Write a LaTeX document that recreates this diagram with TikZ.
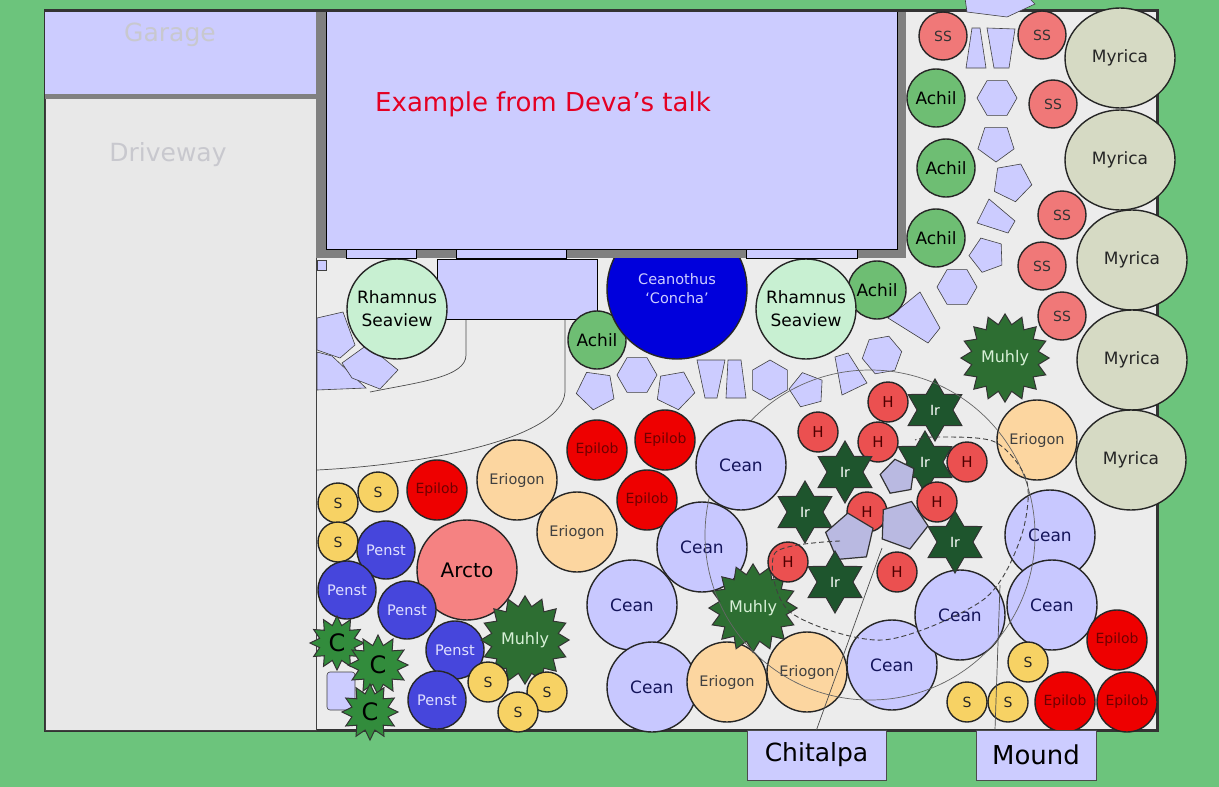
\documentclass[tikz,border=0pt]{standalone}
\usepackage{fontspec}
\setmainfont{DejaVu Sans}
\usetikzlibrary{shapes.geometric}
\newcommand{\fsz}[1]{\fontsize{#1}{#1}\selectfont}
\definecolor{grass}{RGB}{108,196,124}
\definecolor{yard}{RGB}{236,236,236}
\definecolor{drive}{RGB}{232,232,232}
\definecolor{lav}{RGB}{204,204,255}
\definecolor{wall}{RGB}{128,128,128}
\definecolor{ssred}{RGB}{240,120,120}
\definecolor{myrgray}{RGB}{214,218,196}
\definecolor{achgreen}{RGB}{110,190,115}
\definecolor{rhamgreen}{RGB}{200,240,210}
\definecolor{concha}{RGB}{0,0,220}
\definecolor{muhgreen}{RGB}{45,110,50}
\definecolor{cgreen}{RGB}{50,140,60}
\definecolor{irgreen}{RGB}{30,85,45}
\definecolor{hred}{RGB}{235,80,80}
\definecolor{ceanlav}{RGB}{200,200,255}
\definecolor{eriopeach}{RGB}{252,214,160}
\definecolor{epired}{RGB}{238,0,0}
\definecolor{syellow}{RGB}{247,210,100}
\definecolor{penblue}{RGB}{70,70,220}
\definecolor{arcpink}{RGB}{245,130,130}
\definecolor{rockgray}{RGB}{185,185,225}
\definecolor{talkred}{RGB}{228,0,35}

\tikzset{
  plant/.style={circle, draw=black!85, line width=1.4pt, inner sep=0pt, align=center},
  ss/.style={plant, fill=ssred, minimum size=48pt, font=\fsz{14}, text=black!80},
  myrica/.style={plant, ellipse, fill=myrgray, minimum width=110pt, minimum height=100pt, font=\fsz{17}, text=black!85},
  achil/.style={plant, fill=achgreen, minimum size=58pt, font=\fsz{17}},
  rhamnus/.style={plant, fill=rhamgreen, minimum size=100pt, font=\fontsize{17}{23}\selectfont},
  cean/.style={plant, fill=ceanlav, minimum size=90pt, font=\fsz{17}, text={rgb,255:red,20;green,20;blue,90}},
  erio/.style={plant, fill=eriopeach, minimum size=80pt, font=\fsz{14.5}, text=black!75},
  epilob/.style={plant, fill=epired, minimum size=60pt, font=\fsz{14}, text={rgb,255:red,110;green,0;blue,0}},
  smallS/.style={plant, fill=syellow, minimum size=40pt, font=\fsz{14}, text=black!85},
  penst/.style={plant, fill=penblue, minimum size=58pt, font=\fsz{14.5}, text={rgb,255:red,225;green,225;blue,255}},
  hplant/.style={plant, fill=hred, minimum size=40pt, font=\fsz{15}, text={rgb,255:red,80;green,0;blue,0}},
  muhly/.style={star, star points=16, star point ratio=1.3, draw=black!80, line width=1pt, fill=muhgreen, inner sep=0pt, minimum size=80pt, font=\fsz{16}, text={rgb,255:red,215;green,240;blue,215}},
  cstar/.style={star, star points=12, star point ratio=1.5, draw=black!80, line width=1pt, fill=cgreen, inner sep=0pt, font=\fsz{24}},
  iris/.style={star, star points=6, star point ratio=1.73, draw=black!80, line width=1pt, fill=irgreen, inner sep=0pt, minimum size=62pt, font=\fsz{14}, text=white},
  rock/.style={regular polygon, regular polygon sides=5, draw=black!80, line width=1.2pt, fill=rockgray, inner sep=0pt},
  paver/.style={draw=black!75, line width=0.6pt, fill=lav},
  pent/.style={paver, regular polygon, regular polygon sides=5, inner sep=0pt},
  hexa/.style={paver, regular polygon, regular polygon sides=6, inner sep=0pt},
  bedline/.style={draw=black!70, line width=0.7pt},
  faint/.style={font=\fsz{25}, text={rgb,255:red,200;green,200;blue,206}},
  tag/.style={draw=black!70, fill=lav, inner sep=0pt, minimum height=50pt}
}

\begin{document}
\begin{tikzpicture}[x=1pt,y=-1pt]
\useasboundingbox (0,0) rectangle (1219,787);
\fill[grass] (0,0) rectangle (1219,787);

% yard, garage and driveway
\draw[line width=3pt, draw=black!80, fill=yard] (45,10) rectangle (1157,730);
\draw[line width=0.8pt, draw=black!75, fill=drive] (45,97) rectangle (316,730);
\fill[lav] (45,10) rectangle (316,94);
\fill[wall] (45,94) rectangle (316,99);
\node[faint] (garage) at (170,35) {Garage};
\node[faint] (drive) at (168,155) {Driveway};

% beds
\draw[bedline] (466,319) -- (466,355) .. controls (466,377) and (420,382) .. (370,392);
\draw[bedline] (565,319) -- (565,392) .. controls (562,440) and (420,465) .. (317,470);
\draw[paver, draw=black] (437,259) rectangle (597,319);
\draw[paver] (317,260) rectangle (326,270);
\draw[paver, rounded corners=3pt] (327,672) rectangle (355,710);

% stepping stones
\draw[paver] (317,318) -- (343,312) -- (355,345) -- (340,358) -- (317,350) -- cycle;
\draw[paver] (317,352) -- (332,356) -- (366,388) -- (317,390) -- cycle;
\draw[paver] (342,363) -- (367,345) -- (398,370) -- (380,389) -- (352,378) -- cycle;
\draw[paver] (972,28) -- (980,28) -- (986,68) -- (966,68) -- cycle;
\draw[paver] (987,28) -- (1015,29) -- (1009,68) -- (994,68) -- cycle;
\node[hexa, minimum size=40pt] (st1) at (997,98) {};
\node[pent, minimum size=38pt, rotate=180] (st2) at (996,143) {};
\node[pent, minimum size=40pt, rotate=190] (st3) at (1012,182) {};
\draw[paver] (989,199) -- (1015,221) -- (1008,233) -- (977,223) -- cycle;
\node[pent, minimum size=36pt, rotate=20] (st4) at (987,255) {};
\node[hexa, minimum size=40pt] (st5) at (957,287) {};
\draw[paver] (888,318) -- (920,292) -- (940,328) -- (928,343) -- cycle;
\node[hexa, minimum size=40pt, rotate=10] (st6) at (882,355) {};
\draw[paver] (835,357) -- (848,353) -- (867,383) -- (842,395) -- cycle;
\node[pent, minimum size=36pt, rotate=15] (st7) at (807,390) {};
\node[hexa, minimum size=40pt, rotate=90] (st8) at (770,380) {};
\draw[paver] (728,360) -- (741,360) -- (746,398) -- (726,398) -- cycle;
\draw[paver] (697,360) -- (725,360) -- (717,398) -- (705,398) -- cycle;
\node[pent, minimum size=40pt, rotate=190] (st9) at (675,390) {};
\node[hexa, minimum size=40pt] (st10) at (637,375) {};
\node[pent, minimum size=40pt, rotate=100] (st11) at (596,390) {};

% plants
\node[myrica] (myr1) at (1120,58) {Myrica};
\node[myrica] (myr2) at (1120,160) {Myrica};
\node[myrica] (myr3) at (1132,260) {Myrica};
\node[myrica] (myr4) at (1132,360) {Myrica};
\node[myrica] (myr5) at (1131,460) {Myrica};
\node[ss] (ss1) at (943,36) {SS};
\node[ss] (ss2) at (1042,35) {SS};
\node[ss] (ss3) at (1053,104) {SS};
\node[ss] (ss4) at (1062,215) {SS};
\node[ss] (ss5) at (1042,266) {SS};
\node[ss] (ss6) at (1062,316) {SS};
\node[achil] (ach1) at (936,98) {Achil};
\node[achil] (ach2) at (946,168) {Achil};
\node[achil] (ach3) at (936,238) {Achil};
\node[achil] (ach4) at (877,290) {Achil};
\node[achil] (ach5) at (597,340) {Achil};
\node[rhamnus] (rham1) at (397,309) {Rhamnus\\Seaview};
\node[rhamnus] (rham2) at (806,309) {Rhamnus\\Seaview};
\node[plant, fill=concha, minimum size=140pt, font=\fontsize{14.5}{19}\selectfont, text={rgb,255:red,205;green,205;blue,255}] (conc) at (677,289) {Ceanothus\\`Concha'};
\node[muhly] (muh1) at (1005,358) {Muhly};

\node[epilob] (epi1) at (437,490) {Epilob};
\node[epilob] (epi2) at (597,450) {Epilob};
\node[epilob] (epi3) at (665,440) {Epilob};
\node[epilob] (epi4) at (647,500) {Epilob};
\node[erio] (erio1) at (517,480) {Eriogon};
\node[erio] (erio2) at (577,532) {Eriogon};
\node[smallS] (s1) at (338,503) {S};
\node[smallS] (s2) at (378,492) {S};
\node[smallS] (s3) at (338,542) {S};
\node[penst] (pen1) at (386,550) {Penst};
\node[penst] (pen2) at (347,590) {Penst};
\node[plant, fill=arcpink, minimum size=100pt, font=\fsz{20}] (arcto) at (467,570) {Arcto};
\node[penst] (pen3) at (407,610) {Penst};
\node[penst] (pen4) at (455,650) {Penst};
\node[penst] (pen5) at (437,700) {Penst};
\node[cstar, minimum size=54pt] (c1) at (337,643) {C};
\node[cstar, minimum size=60pt] (c2) at (378,665) {C};
\node[cstar, minimum size=56pt] (c3) at (370,712) {C};
\node[muhly] (muh2) at (525,640) {Muhly};
\node[smallS] (s4) at (488,682) {S};
\node[smallS] (s5) at (547,692) {S};
\node[smallS] (s6) at (518,712) {S};

\node[cean] (cean2) at (702,547) {Cean};
\node[cean] (cean3) at (632,605) {Cean};
\node[cean] (cean4) at (652,687) {Cean};
\node[erio] (erio3) at (727,682) {Eriogon};
\node[erio] (erio4) at (807,672) {Eriogon};
\node[muhly] (muh3) at (753,608) {Muhly};
\node[cean] (cean5) at (892,665) {Cean};
\node[cean] (cean6) at (960,615) {Cean};
\node[erio] (erio5) at (1037,440) {Eriogon};
\node[cean] (cean7) at (1050,535) {Cean};
\node[cean] (cean8) at (1052,605) {Cean};
\node[epilob] (epi5) at (1117,640) {Epilob};
\node[epilob] (epi6) at (1065,702) {Epilob};
\node[epilob] (epi7) at (1127,702) {Epilob};
\node[smallS] (s7) at (1028,662) {S};
\node[smallS] (s8) at (967,702) {S};
\node[smallS] (s9) at (1008,702) {S};

% iris and heuchera bed
\node[hplant] (h1) at (888,402) {H};
\node[iris] (ir1) at (935,410) {Ir};
\node[hplant] (h2) at (818,432) {H};
\node[hplant] (h3) at (878,442) {H};
\node[iris] (ir2) at (925,462) {Ir};
\node[iris] (ir3) at (845,472) {Ir};
\node[hplant] (h4) at (967,462) {H};
\node[rock, minimum size=36pt, rotate=10] (rk1) at (898,477) {};
\node[iris] (ir4) at (805,512) {Ir};
\node[hplant] (h5) at (937,502) {H};
\node[iris] (ir5) at (955,542) {Ir};
\node[hplant] (h6) at (867,512) {H};
\node[rock, minimum size=50pt, rotate=-20] (rk3) at (903,525) {};
\node[rock, minimum size=50pt, rotate=5] (rk2) at (850,538) {};
\node[hplant] (h7) at (788,562) {H};
\node[iris] (ir6) at (835,582) {Ir};
\node[hplant] (h8) at (897,572) {H};

% house
\fill[wall] (316,10) rectangle (906,258);
\draw[line width=0.8pt, fill=lav] (326,10) rectangle (897,249);
\foreach \a/\b in {346/416,456/566,746/857}
  \draw[line width=0.6pt, fill=lav] (\a,249) rectangle (\b,258);
\draw[line width=3pt, draw=black!80] (45,10) -- (906,10);
\node[font=\fsz{26}, text=talkred] (talk) at (543,104) {Example from Deva's talk};

% bed outlines and labels
\coordinate (bed) at (870,535);
\coordinate (tree) at (882,548);
\coordinate (mtop) at (1000,585);
\draw[bedline, draw=black!60] (bed) circle[radius=165pt];
\draw[bedline, draw=black!75, line width=0.9pt, dash pattern=on 5pt off 3pt] plot[smooth] coordinates {(840,541) (775,553) (790,612) (883,640) (983,600) (1020,540) (1027,482) (995,442) (935,437) (915,440)};
\node[cean] (cean1) at (741,465) {Cean};
\draw[paver] (965,-2) -- (967,12) -- (1007,17) -- (1035,4) -- (1027,-4) -- cycle;
\node[tag, minimum width=139pt, font=\fsz{25}] (chit) at (816.5,755) {Chitalpa};
\node[tag, minimum width=120pt, font=\fsz{26}] (mound) at (1036,755) {Mound};
\draw[bedline] (chit.north) -- (tree);
\draw[bedline] ([xshift=-41pt]mound.north) -- (mtop);
\end{tikzpicture}
\end{document}
